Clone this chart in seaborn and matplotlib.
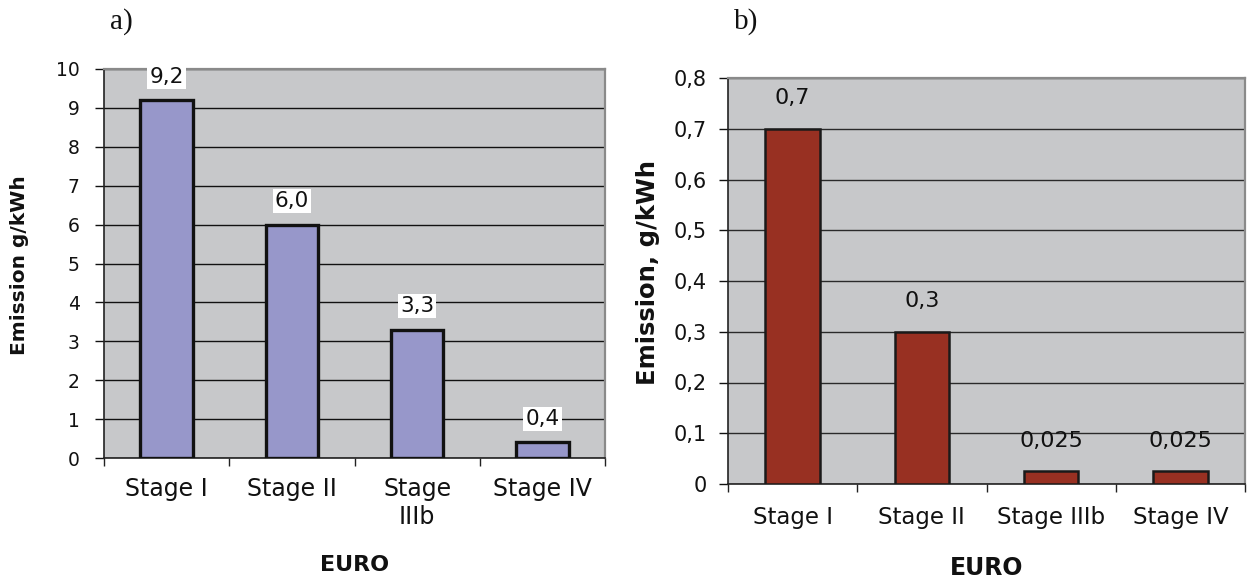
import matplotlib
matplotlib.use("Agg")
import matplotlib.pyplot as plt
import seaborn as sns
import pandas as pd
from matplotlib.ticker import FixedLocator, FuncFormatter

# ---- data ----
stages_a = ["Stage I", "Stage II", "Stage\nIIIb", "Stage IV"]
values_a = [9.2, 6.0, 3.3, 0.4]
labels_a = ["9,2", "6,0", "3,3", "0,4"]

stages_b = ["Stage I", "Stage II", "Stage IIIb", "Stage IV"]
values_b = [0.7, 0.3, 0.025, 0.025]
labels_b = ["0,7", "0,3", "0,025", "0,025"]

yticks_a = [0, 1, 2, 3, 4, 5, 6, 7, 8, 9, 10]
yticks_b = [0, 0.1, 0.2, 0.3, 0.4, 0.5, 0.6, 0.7, 0.8]

sns.set_theme(style="white")
plt.rcParams["font.family"] = ["DejaVu Sans"]

BG = "#C7C8CA"
fig = plt.figure(figsize=(12.47, 5.78), dpi=100)
fig.patch.set_facecolor("white")

axA = fig.add_axes([104/1247, 1-458/578, 501/1247, 389/578])
axB = fig.add_axes([728/1247, 1-484/578, 517/1247, 406/578])

dfa = pd.DataFrame({"stage": stages_a, "value": values_a})
dfb = pd.DataFrame({"stage": stages_b, "value": values_b})

sns.barplot(data=dfa, x="stage", y="value", color="#9797CA", saturation=1,
            width=0.42, edgecolor="#111111", linewidth=2.4, ax=axA, zorder=3)
sns.barplot(data=dfb, x="stage", y="value", color="#983022", saturation=1,
            width=0.42, edgecolor="#1a1a1a", linewidth=1.8, ax=axB, zorder=3)

def style_axes(ax, ylim, yticks, fmt, grid_color, ytick_size, xtick_size, ypad, xpad):
    ax.set_facecolor(BG)
    ax.set_xlim(-0.5, 3.5)
    ax.set_ylim(*ylim)
    ax.yaxis.set_major_locator(FixedLocator(yticks))
    ax.yaxis.set_major_formatter(FuncFormatter(fmt))
    ax.set_axisbelow(True)
    ax.grid(axis="y", color=grid_color, linewidth=1.0, zorder=0)
    ax.grid(axis="x", visible=False)
    for s in ["left", "bottom"]:
        ax.spines[s].set_color("#222222")
        ax.spines[s].set_linewidth(1.2)
    for s in ["top", "right"]:
        ax.spines[s].set_color("#8a8a8a")
        ax.spines[s].set_linewidth(1.6)
    ax.tick_params(axis="y", which="major", direction="out", length=6.5, width=1,
                   color="#111111", left=True, labelsize=ytick_size, pad=ypad,
                   labelcolor="#111111")
    ax.tick_params(axis="x", which="major", length=0, labelsize=xtick_size,
                   pad=xpad, labelcolor="#111111")
    ax.xaxis.set_minor_locator(FixedLocator([-0.5, 0.5, 1.5, 2.5, 3.5]))
    ax.tick_params(axis="x", which="minor", direction="out", length=6, width=1,
                   color="#222222", bottom=True)

style_axes(axA, (0, 10), yticks_a, lambda v, p: f"{int(round(v))}", "#111111",
           13.5, 17, 11, 14)
style_axes(axB, (0, 0.8), yticks_b,
           lambda v, p: "0" if abs(v) < 1e-9 else f"{v:.1f}".replace(".", ","),
           "#2a2a2a", 15, 16.5, 9, 16)

# data labels
for i, (v, t) in enumerate(zip(values_a, labels_a)):
    axA.annotate(t, xy=(i, v), xytext=(0, 17), textcoords="offset points",
                 ha="center", va="center", fontsize=15.5, color="#111111",
                 bbox=dict(facecolor="white", edgecolor="none", pad=1.5), zorder=5)
for i, (v, t) in enumerate(zip(values_b, labels_b)):
    axB.annotate(t, xy=(i, v), xytext=(0, 22), textcoords="offset points",
                 ha="center", va="center", fontsize=16, color="#111111", zorder=5)

# axis labels
axA.set_xlabel("EURO", fontsize=16, fontweight="bold", color="#111111")
axA.set_ylabel("Emission g/kWh", fontsize=14.5, fontweight="bold", color="#111111")
axA.xaxis.set_label_coords(0.5, -0.275)
axA.xaxis.label.set_va("center")
axA.yaxis.set_label_coords(-0.169, 0.495)
axA.yaxis.label.set_va("center")

axB.set_xlabel("EURO", fontsize=17, fontweight="bold", color="#111111")
axB.set_ylabel("Emission, g/kWh", fontsize=17.5, fontweight="bold", color="#111111")
axB.xaxis.set_label_coords(0.5, -0.207)
axB.xaxis.label.set_va("center")
axB.yaxis.set_label_coords(-0.155, 0.52)
axB.yaxis.label.set_va("center")

# panel letters
fig.text(121/1247, 1-22/578, "a)", fontsize=21, family="Liberation Serif",
         ha="center", va="center", color="#111111")
fig.text(746/1247, 1-22/578, "b)", fontsize=21, family="Liberation Serif",
         ha="center", va="center", color="#111111")

fig.savefig("out.png", dpi=100, facecolor="white")
